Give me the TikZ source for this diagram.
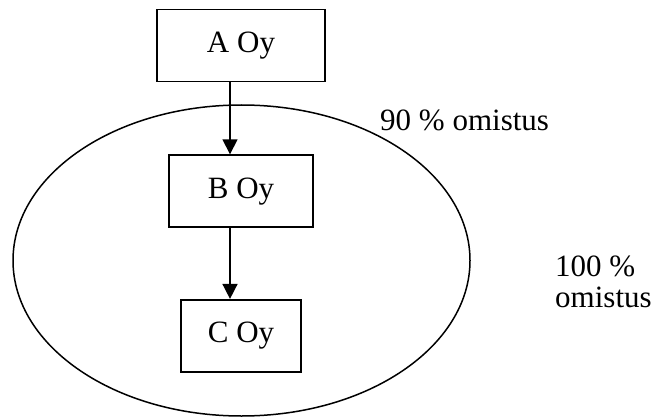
\documentclass[tikz,border=0pt]{standalone}
\usepackage{fontspec}
\setmainfont{Liberation Serif}
\usetikzlibrary{shapes.geometric, arrows.meta, positioning}

\begin{document}
\begin{tikzpicture}[
  x=1pt, y=-1pt,
  node distance=72pt,
  oy/.style={draw, line width=1.6pt, font=\fontsize{31}{33}\selectfont,
             minimum height=72pt, inner sep=0pt},
  osuus/.style={font=\fontsize{31}{31}\selectfont, align=left, inner sep=0pt},
  nuoli/.style={-{Triangle[length=15pt, width=15pt]}, line width=1.6pt}
]
  \useasboundingbox (0,0) rectangle (658,417);

  \node[ellipse, draw, line width=1.5pt, minimum width=457pt,
        minimum height=311pt] (ryhma) at (241.5,260.5) {};

  \node[oy, minimum width=168pt] (A) at (241,45.5) {A Oy};
  \node[oy, minimum width=144pt, below=72pt of A] (B) {B Oy};
  \node[oy, minimum width=120pt, below=71pt of B] (C) {C Oy};

  \draw[nuoli] ([xshift=-11pt]A.south) -- ([xshift=-11pt]B.north);
  \draw[nuoli] ([xshift=-11pt]B.south) -- ([xshift=-11pt]C.north);

  \node[osuus, anchor=base west] (ysi) at (380,130) {90 \% omistus};
  \node[osuus, anchor=north west] (sata) at (555,256) {100 \%\\omistus};
\end{tikzpicture}
\end{document}
